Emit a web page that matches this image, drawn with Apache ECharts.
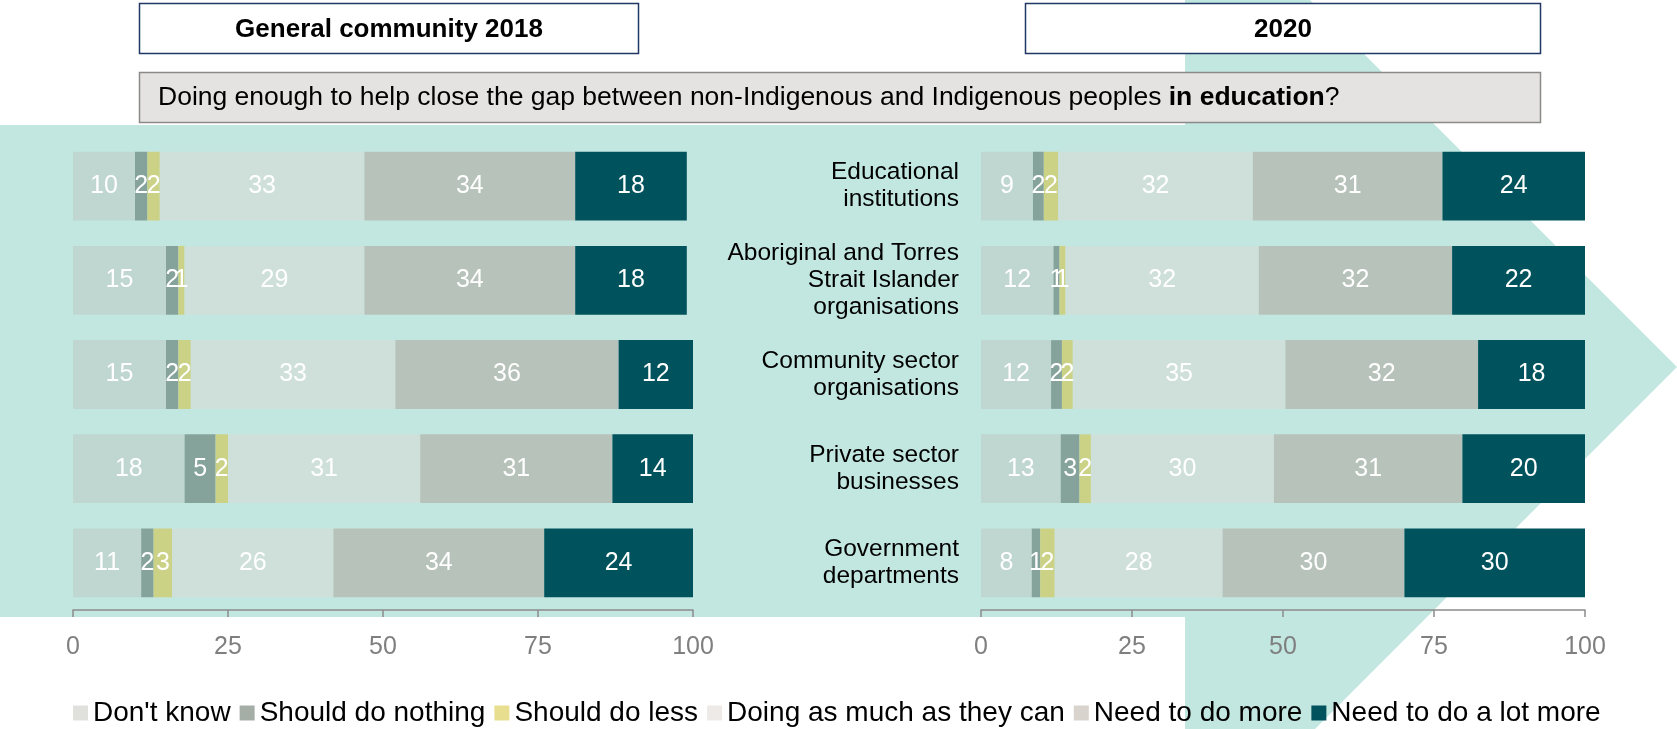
<!DOCTYPE html>
<html><head><meta charset="utf-8">
<script src="https://cdn.jsdelivr.net/npm/echarts@6/dist/echarts.min.js"></script>
<style>html,body{margin:0;padding:0;background:#fff}#c{width:1677px;height:729px}</style>
</head><body><div id="c"></div>
<script>
// ---- data ----
const categories = ["Educational\ninstitutions", "Aboriginal and Torres\nStrait Islander\norganisations", "Community sector\norganisations", "Private sector\nbusinesses", "Government\ndepartments"];
const seriesNames = ["Don't know", "Should do nothing", "Should do less", "Doing as much as they can", "Need to do more", "Need to do a lot more"];
const xTicks = [0, 25, 50, 75, 100];
// General community 2018 (%)
const dontKnow2018 = [10, 15, 15, 18, 11];
const nothing2018 = [2, 2, 2, 5, 2];
const less2018 = [2, 1, 2, 2, 3];
const doing2018 = [33, 29, 33, 31, 26];
const more2018 = [34, 34, 36, 31, 34];
const lotMore2018 = [18, 18, 12, 14, 24];
// 2020 (%), segment widths, labels shown rounded
const dontKnow2020 = [8.6, 12, 11.6, 13.2, 8.4];
const nothing2020 = [1.8, 1, 1.8, 3.1, 1.4];
const less2020 = [2.4, 1, 1.8, 1.9, 2.4];
const doing2020 = [32.2, 32, 35.2, 30.3, 27.8];
const more2020 = [31.4, 32, 31.9, 31.2, 30.1];
const lotMore2020 = [23.6, 22, 17.7, 20.3, 29.9];
const headerLeft = "General community 2018";
const headerRight = "2020";
const questionParts = ["Doing enough to help close the gap between non-Indigenous and Indigenous peoples ", "in education", "?"];

// ---- styles ----
const barColors = ["#C0D7D1", "#86A39B", "#CBD286", "#CFE0DB", "#B7C3BA", "#00535D"];
const legendColors = ["#E0E1DD", "#A4AEA6", "#E8DE90", "#EEEAE7", "#D9D3CE", "#00525C"];
const FONT = "'Liberation Sans', Arial, sans-serif";
const TEAL = "#C2E7E0";

const data2018 = [dontKnow2018, nothing2018, less2018, doing2018, more2018, lotMore2018];
const data2020 = [dontKnow2020, nothing2020, less2020, doing2020, more2020, lotMore2020];

function makeSeries(arrs, idx, stack) {
  return arrs.map((d, i) => ({
    name: seriesNames[i], type: 'bar', stack: stack,
    xAxisIndex: idx, yAxisIndex: idx,
    data: d, barCategoryGap: '27%',
    itemStyle: { color: barColors[i] },
    label: { show: true, position: 'inside', color: '#fff', fontSize: 25, fontFamily: FONT,
      formatter: p => String(Math.round(p.value)) },
    emphasis: { disabled: true }
  }));
}

const xAxisBase = {
  type: 'value', min: xTicks[0], max: xTicks[xTicks.length - 1], interval: xTicks[1] - xTicks[0],
  axisLine: { show: true, lineStyle: { color: '#8C8C8C', width: 1.5 } },
  axisTick: { show: true, length: 7, lineStyle: { color: '#8C8C8C', width: 1.5 } },
  splitLine: { show: false },
  axisLabel: { color: '#7F7F7F', fontSize: 25, fontFamily: FONT, margin: 25 }
};

const chart = echarts.init(document.getElementById('c'), null, { renderer: 'canvas' });
chart.setOption({
  animation: false,
  textStyle: { fontFamily: FONT },
  graphic: [
    { type: 'rect', z: -10, shape: { x: 0, y: 125, width: 1186, height: 492 }, style: { fill: TEAL } },
    { type: 'polygon', z: -10, shape: { points: [[1185, -125], [1677, 367], [1185, 859]] }, style: { fill: TEAL } },
    { type: 'rect', z: 10, shape: { x: 139.5, y: 3.5, width: 499, height: 50 }, style: { fill: '#fff', stroke: '#1F3864', lineWidth: 1.5 } },
    { type: 'text', z: 11, x: 389, y: 30, style: { text: headerLeft, font: "bold 26px " + FONT, fill: '#000', textAlign: 'center', textVerticalAlign: 'middle' } },
    { type: 'rect', z: 10, shape: { x: 1025.5, y: 3.5, width: 515, height: 50 }, style: { fill: '#fff', stroke: '#1F3864', lineWidth: 1.5 } },
    { type: 'text', z: 11, x: 1283, y: 30, style: { text: headerRight, font: "bold 26px " + FONT, fill: '#000', textAlign: 'center', textVerticalAlign: 'middle' } },
    { type: 'rect', z: 10, shape: { x: 139.5, y: 72.5, width: 1401, height: 50 }, style: { fill: '#E5E3E1', stroke: '#8C8A88', lineWidth: 1.5 } },
    { type: 'text', z: 11, x: 158, y: 98, style: {
        text: '{n|' + questionParts[0] + '}{b|' + questionParts[1] + '}{n|' + questionParts[2] + '}',
        textVerticalAlign: 'middle',
        rich: { n: { fontSize: 26.5, fontFamily: FONT, fill: '#000', color: '#000' }, b: { fontSize: 26.5, fontFamily: FONT, fontWeight: 'bold', fill: '#000', color: '#000' } } } }
  ],
  legend: {
    data: seriesNames.map((n, i) => ({ name: n, itemStyle: { color: legendColors[i] } })),
    left: 68, top: 694, icon: 'rect', itemWidth: 15, itemHeight: 15, itemGap: 9,
    textStyle: { fontSize: 28, color: '#000', fontFamily: FONT },
    selectedMode: false
  },
  grid: [
    { left: 73, width: 620, top: 139, height: 471 },
    { left: 981, width: 604, top: 139, height: 471 }
  ],
  xAxis: [ Object.assign({ gridIndex: 0 }, xAxisBase), Object.assign({ gridIndex: 1 }, xAxisBase) ],
  yAxis: [
    { gridIndex: 0, type: 'category', data: categories, inverse: true, axisLine: { show: false }, axisTick: { show: false }, axisLabel: { show: false } },
    { gridIndex: 1, type: 'category', data: categories, inverse: true, axisLine: { show: false }, axisTick: { show: false },
      axisLabel: { show: true, color: '#000', fontSize: 24.5, lineHeight: 27, fontFamily: FONT, align: 'right', margin: 22 } }
  ],
  series: makeSeries(data2018, 0, 'a').concat(makeSeries(data2020, 1, 'b'))
});
</script></body></html>
